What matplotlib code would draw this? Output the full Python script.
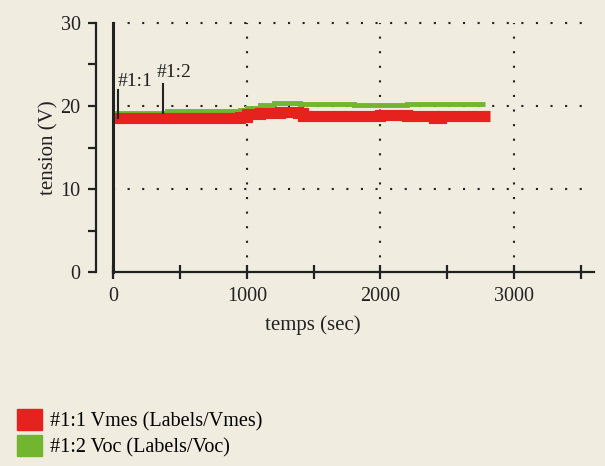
import matplotlib

matplotlib.use("Agg")
import matplotlib.pyplot as plt
from matplotlib.patches import Patch

# Vmes (red) and Voc (green) voltage traces
vmes_t = [0, 60, 200, 350, 500, 650, 800, 950, 1000, 1100, 1250, 1380, 1420,
          1600, 1800, 2000, 2200, 2400, 2450, 2600, 2820]
vmes_v = [18.6, 18.5, 18.6, 18.6, 18.5, 18.6, 18.6, 18.7, 19.0, 19.2, 19.3,
          19.1, 18.8, 18.8, 18.8, 18.9, 18.8, 18.6, 18.8, 18.8, 18.8]
voc_t = [0, 300, 400, 600, 800, 950, 1000, 1100, 1200, 1350, 1400, 1600,
         1800, 2000, 2200, 2400, 2600, 2780]
voc_v = [19.2, 19.2, 19.4, 19.4, 19.4, 19.5, 19.7, 20.1, 20.4, 20.4, 20.2,
         20.2, 20.1, 20.1, 20.2, 20.2, 20.2, 20.2]

markers = ["#1:1", "#1:2"]
marker_t = [33, 370]
marker_lo = [18.6, 19.2]
marker_hi = [21.9, 22.7]

legend_labels = ["#1:1 Vmes (Labels/Vmes)", "#1:2 Voc (Labels/Voc)"]

bg = "#f0ece0"
red = "#e6221f"
green = "#72b52e"
ink = "#222222"

plt.rcParams["font.family"] = ["Liberation Serif", "DejaVu Serif"]

fig = plt.figure(figsize=(6.05, 4.66), dpi=100, facecolor=bg)
ax = fig.add_axes([96 / 605, 1 - 272 / 466, 498 / 605, 249 / 466], facecolor=bg)
ax.set_xlim(-131, 3600)
ax.set_ylim(0, 30)

# dotted grid
for gx in [1000, 2000, 3000]:
    ax.plot([gx, gx], [0, 30], color=ink, lw=1.5, ls=(0, (1, 6)), clip_on=False, zorder=1)
for gy in [10, 20, 30]:
    ax.plot([0, 3600], [gy, gy], color=ink, lw=1.5, ls=(0, (1, 6)), clip_on=False, zorder=1)

ax.plot(vmes_t, vmes_v, color=red, lw=8, drawstyle="steps-post",
        solid_capstyle="butt", solid_joinstyle="miter", zorder=3)
ax.plot(voc_t, voc_v, color=green, lw=3.5, drawstyle="steps-post",
        solid_capstyle="butt", solid_joinstyle="miter", zorder=2)

# start line at t=0
ax.plot([0, 0], [0, 30], color=ink, lw=2.2, clip_on=False, zorder=4)

for t, lo, hi in zip(marker_t, marker_lo, marker_hi):
    ax.plot([t, t], [lo, hi], color=ink, lw=1.5, zorder=4)
ax.text(30, 22.4, markers[0], fontsize=14, color=ink, ha="left", va="baseline")
ax.text(320, 23.5, markers[1], fontsize=14, color=ink, ha="left", va="baseline")

for side in ["top", "right"]:
    ax.spines[side].set_visible(False)
ax.spines["left"].set_bounds(0, 30)
ax.spines["left"].set_linewidth(1.6)
ax.spines["left"].set_color(ink)
ax.spines["bottom"].set_bounds(0, 3600)
ax.spines["bottom"].set_linewidth(1.6)
ax.spines["bottom"].set_color(ink)

ax.set_yticks([0, 10, 20, 30])
ax.set_yticks([5, 15, 25], minor=True)
ax.tick_params(axis="y", which="both", direction="out", length=6, width=1.6,
               colors=ink, labelsize=14.5, pad=5)
ax.set_xticks([0, 500, 1000, 1500, 2000, 2500, 3000, 3500])
ax.set_xticklabels(["0", "", "1000", "", "2000", "", "3000", ""])
ax.tick_params(axis="x", direction="inout", length=10, width=1.6,
               colors=ink, labelsize=14.5, pad=6)

ax.set_xlabel("temps (sec)", fontsize=15, color=ink)
ax.set_ylabel("tension (V)", fontsize=15, color=ink)
ax.xaxis.set_label_coords(217 / 498, -43 / 249)
ax.yaxis.set_label_coords(-38 / 498, 0.5)

handles = [Patch(facecolor=red, edgecolor=red), Patch(facecolor=green, edgecolor=green)]
fig.legend(handles, legend_labels, loc="lower left", bbox_to_anchor=(0.005, -0.012),
           frameon=False, fontsize=14.5, handlelength=1.25, handleheight=1.2,
           handletextpad=0.4, labelspacing=0.2, borderaxespad=0.3)

fig.savefig("out.png", dpi=100, facecolor=bg)
